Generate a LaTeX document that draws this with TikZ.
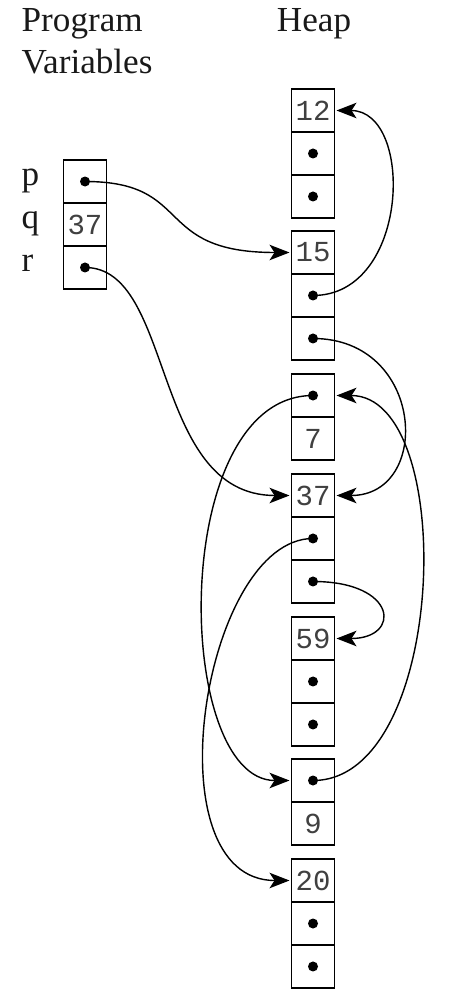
\documentclass[tikz,border=0pt]{standalone}
\usepackage{fontspec}
\setmainfont{Liberation Serif}
\newfontfamily\monofont{Liberation Mono}
\usetikzlibrary{positioning,arrows.meta}
\newcommand{\cellfont}{\monofont\fontsize{16.5}{18}\selectfont}
\newcommand{\lblfont}{\fontsize{20}{24}\selectfont}

\begin{document}
\begin{tikzpicture}[
            x=0.02cm, y=-0.02cm,
            cell/.style={draw, minimum size=0.86cm, inner sep=0pt, outer sep=0pt, font=\cellfont, text=black!75},
            lbl/.style={font=\lblfont, inner sep=0pt, text=black!90},
            ptr/.style={draw, -{Stealth[length=0.4cm, width=0.31cm, inset=0.1cm]}, shorten >=0.04cm},
            line width=0.8pt
        ]
        \useasboundingbox (0,0) rectangle (452,997);
        % titles
        \node[lbl, anchor=base west] (prog) at (21,32) {Program};
        \node[lbl, anchor=base west] (vars) at (21,74) {Variables};
        \node[lbl, anchor=base] (heap) at (314,32) {Heap};
        % program variables
        \node[cell] (vp) at (85,181.5) {};
        \node[cell, below=0pt of vp] (vq) {37};
        \node[cell, below=0pt of vq] (vr) {};
        \node[lbl, anchor=mid west] (lp) at (21,181.5) {p};
        \node[lbl, anchor=mid west] (lq) at (21,224.5) {q};
        \node[lbl, anchor=mid west] (lr) at (21,267.5) {r};
        % heap blocks
        \node[cell] (b12a) at (313,110.5) {12};
        \node[cell, below=0pt of b12a] (b12b) {};
        \node[cell, below=0pt of b12b] (b12c) {};
        \node[cell] (b15a) at (313,252.5) {15};
        \node[cell, below=0pt of b15a] (b15b) {};
        \node[cell, below=0pt of b15b] (b15c) {};
        \node[cell] (b7a) at (313,395.5) {};
        \node[cell, below=0pt of b7a] (b7b) {7};
        \node[cell] (b37a) at (313,495.5) {37};
        \node[cell, below=0pt of b37a] (b37b) {};
        \node[cell, below=0pt of b37b] (b37c) {};
        \node[cell] (b59a) at (313,638.5) {59};
        \node[cell, below=0pt of b59a] (b59b) {};
        \node[cell, below=0pt of b59b] (b59c) {};
        \node[cell] (b9a) at (313,780.5) {};
        \node[cell, below=0pt of b9a] (b9b) {9};
        \node[cell] (b20a) at (313,880.5) {20};
        \node[cell, below=0pt of b20a] (b20b) {};
        \node[cell, below=0pt of b20b] (b20c) {};
        % pointers
        \draw[ptr] (vp.center) .. controls +(110,0) and +(-140,0) .. (b15a.west);
        \draw[ptr] (vr.center) .. controls +(90,0) and +(-141,0) .. (b37a.west);
        \draw[ptr] (b15b.center) .. controls +(97,0) and +(80,0) .. (b12a.east);
        \draw[ptr] (b15c.center) .. controls +(112,0) and +(98,0) .. (b37a.east);
        \draw[ptr] (b7a.center) .. controls +(-145,0) and +(-118,0) .. (b9a.west);
        \draw[ptr] (b9a.center) .. controls +(135,0) and +(124,0) .. (b7a.east);
        \draw[ptr] (b37b.center) .. controls +(-110,0) and +(-142,0) .. (b20a.west);
        \draw[ptr] (b37c.center) .. controls +(85,0) and +(67,0) .. (b59a.east);
        \foreach \c in {vp,vr,b12b,b12c,b15b,b15c,b7a,b37b,b37c,b59b,b59c,b9a,b20b,b20c}
            \fill (\c.center) circle (0.1cm);
    \end{tikzpicture}
\end{document}
